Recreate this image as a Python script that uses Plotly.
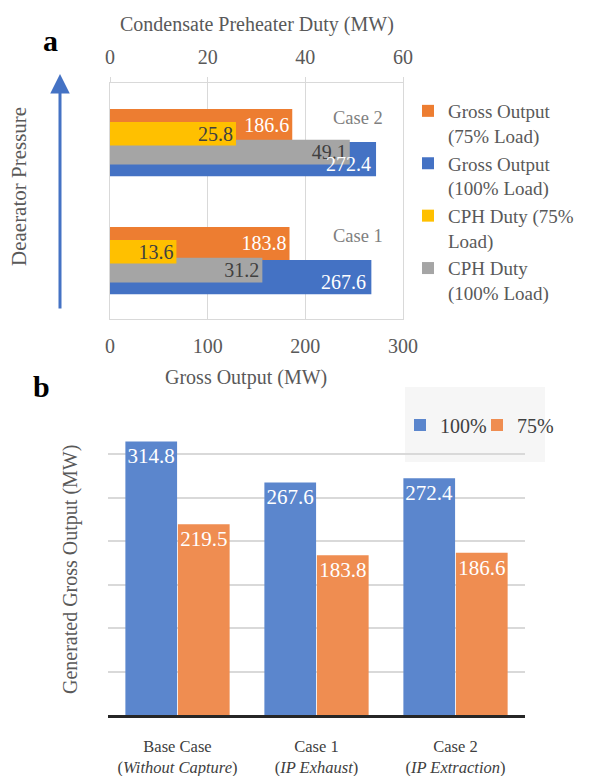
import plotly.graph_objects as go

W, H = 590, 776

# ---------------- data ----------------
cases_a = ["Case 1", "Case 2"]
gross_75 = [183.8, 186.6]
gross_100 = [267.6, 272.4]
cph_75 = [13.6, 25.8]
cph_100 = [31.2, 49.1]

cats_b = ["Base Case<br>(<i>Without Capture</i>)", "Case 1<br>(<i>IP Exhaust</i>)", "Case 2<br>(<i>IP Extraction</i>)"]
b_100 = [314.8, 267.6, 272.4]
b_75 = [219.5, 183.8, 186.6]

ORANGE = "#ED7D31"
BLUE = "#4472C4"
YELLOW = "#FFC000"
GRAY = "#A5A5A5"
B_BLUE = "#5B86CD"
B_ORANGE = "#EF8D51"
TXT = "#595959"
FONT = "Liberation Serif"

def px_x(p):
    return p / W

def px_y(p):
    return 1 - p / H

ypos = list(range(len(cases_a)))

fig = go.Figure()

# ---- panel a (primary axis: gross output) ----
fig.add_trace(go.Bar(
    y=ypos, x=gross_75, orientation="h", name="Gross Output<br>(75% Load)",
    marker=dict(color=ORANGE, line=dict(width=0)), offset=0.0, width=0.28,
    text=[f"{v:.1f}" for v in gross_75], textposition="inside", insidetextanchor="end",
    textangle=0, textfont=dict(color="white", size=20, family=FONT), constraintext="none",
    xaxis="x", yaxis="y", legend="legend", legendrank=1))
fig.add_trace(go.Bar(
    y=ypos, x=gross_100, orientation="h", name="Gross Output<br>(100% Load)",
    marker=dict(color=BLUE, line=dict(width=0)), offset=-0.29, width=0.29,
    textposition="none",
    xaxis="x", yaxis="y", legend="legend", legendrank=2))
# ---- panel a (secondary axis: CPH duty) ----
fig.add_trace(go.Bar(
    y=ypos, x=cph_100, orientation="h", name="CPH Duty<br>(100% Load)",
    marker=dict(color=GRAY, line=dict(width=0)), offset=-0.19, width=0.21,
    text=[f"{v:.1f}" for v in cph_100], textposition="inside", insidetextanchor="end",
    textangle=0, textfont=dict(color="#404040", size=20, family=FONT), constraintext="none",
    xaxis="x2", yaxis="y", legend="legend", legendrank=4))
fig.add_trace(go.Bar(
    y=ypos, x=cph_75, orientation="h", name="CPH Duty (75%<br>Load)",
    marker=dict(color=YELLOW, line=dict(width=0)), offset=-0.03, width=0.2,
    text=[f"{v:.1f}" for v in cph_75], textposition="inside", insidetextanchor="end",
    textangle=0, textfont=dict(color="#404040", size=20, family=FONT), constraintext="none",
    xaxis="x2", yaxis="y", legend="legend", legendrank=3))

# ---- panel b ----
fig.add_trace(go.Bar(
    x=cats_b, y=b_100, name="100%", marker=dict(color=B_BLUE, line=dict(width=0)),
    offset=-0.375, width=0.372,
    text=[f"{v:.1f}" for v in b_100], textposition="inside", insidetextanchor="end",
    textangle=0, textfont=dict(color="white", size=21, family=FONT), constraintext="none",
    xaxis="x3", yaxis="y2", legend="legend2"))
fig.add_trace(go.Bar(
    x=cats_b, y=b_75, name="75%", marker=dict(color=B_ORANGE, line=dict(width=0)),
    offset=0.003, width=0.372,
    text=[f"{v:.1f}" for v in b_75], textposition="inside", insidetextanchor="end",
    textangle=0, textfont=dict(color="white", size=21, family=FONT), constraintext="none",
    xaxis="x3", yaxis="y2", legend="legend2"))

GRID = "#D9D9D9"

fig.update_layout(
    width=W, height=H, margin=dict(l=0, r=0, t=0, b=0, autoexpand=False),
    paper_bgcolor="white", plot_bgcolor="rgba(0,0,0,0)",
    barmode="overlay",
    font=dict(family=FONT, color=TXT, size=20),
    xaxis=dict(domain=[px_x(110), px_x(403)], range=[0, 300], dtick=100, anchor="y",
               showgrid=True, gridcolor=GRID, gridwidth=1, automargin=False,
               showline=True, linecolor=GRID, linewidth=1,
               ticks="outside", ticklen=9, tickcolor="rgba(0,0,0,0)",
               tickfont=dict(size=20, color=TXT), zeroline=False),
    xaxis2=dict(overlaying="x", side="top", anchor="y", range=[0, 60], dtick=20,
                showgrid=False, showline=True, linecolor=GRID, linewidth=1, automargin=False,
                ticks="outside", ticklen=5, tickcolor=GRID, ticklabelstandoff=5,
                tickfont=dict(size=20, color=TXT), zeroline=False),
    yaxis=dict(domain=[px_y(319), px_y(83)], range=[-0.5, 1.5], anchor="x", automargin=False,
               showticklabels=False, showgrid=False, zeroline=False,
               showline=True, mirror=True, linecolor=GRID, linewidth=1, ticks=""),
    xaxis3=dict(domain=[px_x(108), px_x(525)], anchor="y2", range=[-0.5, 2.5], automargin=False,
                showline=True, linecolor="#262626", linewidth=2.5,
                ticks="outside", ticklen=14, tickcolor="rgba(0,0,0,0)",
                tickfont=dict(size=16.5, color="#404040"), showgrid=False, zeroline=False),
    yaxis2=dict(domain=[px_y(715), px_y(410)], anchor="x3", range=[0, 351], dtick=50,
                automargin=False,
                showticklabels=False, showgrid=True, gridcolor=GRID, gridwidth=1.5,
                zeroline=False, showline=False, ticks=""),
    legend=dict(x=px_x(408), y=px_y(92), xanchor="left", yanchor="top",
                font=dict(size=19, color=TXT, family=FONT), bgcolor="rgba(0,0,0,0)",
                tracegroupgap=0, itemwidth=30, valign="top", traceorder="normal"),
    legend2=dict(x=px_x(400), y=px_y(425), xanchor="left", yanchor="middle",
                 orientation="h", font=dict(size=20, color="#404040", family=FONT),
                 bgcolor="rgba(0,0,0,0)", itemwidth=30, entrywidth=32),
    showlegend=True,
)

# legend background box for panel b (drawn beneath gridlines)
fig.add_shape(type="rect", xref="paper", yref="paper",
              x0=px_x(405), x1=px_x(545), y0=px_y(462), y1=px_y(387),
              fillcolor="#F6F6F6", line=dict(width=0), layer="below")

C = dict(xanchor="center", yanchor="middle", showarrow=False)
ann = []
# value labels of the 100%-load gross output bars (drawn above the duty bars)
for i, v in enumerate(gross_100):
    ann.append(dict(x=v, y=i - 0.185, xref="x", yref="y", text=f"{v:.1f}",
                    xanchor="right", yanchor="middle", xshift=-3, showarrow=False,
                    font=dict(size=20, color="white", family=FONT)))
# case labels inside panel a
for i, c in enumerate(cases_a):
    ann.append(dict(x=254, y=i + 0.2, xref="x", yref="y", text=c, **C,
                    font=dict(size=18.5, color="#7F7F7F", family=FONT)))
# axis titles
ann.append(dict(x=px_x(257), y=px_y(25), xref="paper", yref="paper",
                text="Condensate Preheater Duty (MW)", **C,
                font=dict(size=20, color=TXT, family=FONT)))
ann.append(dict(x=px_x(246), y=px_y(377), xref="paper", yref="paper",
                text="Gross Output (MW)", **C,
                font=dict(size=20, color=TXT, family=FONT)))
ann.append(dict(x=px_x(19), y=px_y(187), xref="paper", yref="paper",
                text="Deaerator Pressure", textangle=-90, **C,
                font=dict(size=21, color=TXT, family=FONT)))
ann.append(dict(x=px_x(70), y=px_y(570), xref="paper", yref="paper",
                text="Generated Gross Output (MW)", textangle=-90, **C,
                font=dict(size=20, color=TXT, family=FONT)))
# panel letters
ann.append(dict(x=px_x(50), y=px_y(40), xref="paper", yref="paper", text="<b>a</b>", **C,
                font=dict(size=30, color="black", family=FONT)))
ann.append(dict(x=px_x(41), y=px_y(386), xref="paper", yref="paper", text="<b>b</b>", **C,
                font=dict(size=30, color="black", family=FONT)))
# deaerator pressure arrow
ann.append(dict(x=px_x(60), y=px_y(74), xref="paper", yref="paper", text="",
                showarrow=True, ax=0, ay=236, arrowcolor=BLUE, arrowwidth=3,
                arrowhead=2, arrowsize=1.3, standoff=0, startstandoff=0))
fig.update_layout(annotations=ann)

fig.write_html("out.html", config={"displayModeBar": False},
               post_script="document.body.style.margin='0px';")
